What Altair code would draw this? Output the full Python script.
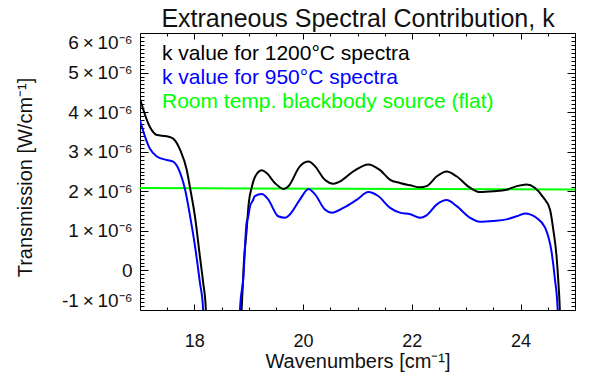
import altair as alt
import pandas as pd

# k value for 1200°C spectra (units of 1e-6 W/cm^-1)
wn_1200 = [17.00, 17.18, 17.31, 17.49, 17.61, 17.74, 17.86, 17.92, 18.01, 18.10, 18.16, 18.21, 18.25,
           18.83, 18.87, 18.91, 18.96, 19.00, 19.06, 19.11, 19.24, 19.33, 19.48, 19.64, 19.73, 19.94,
           20.10, 20.22, 20.40, 20.56, 20.68, 20.92, 21.20, 21.41, 21.60, 21.78, 21.97, 22.15, 22.27,
           22.46, 22.64, 22.82, 23.07, 23.25, 23.50, 23.74, 23.93, 24.11, 24.26, 24.42, 24.54, 24.60,
           24.66, 24.69, 24.72, 24.75]
k_1200 = [4.33, 3.63, 3.42, 3.39, 3.33, 3.04, 2.54, 2.09, 1.37, 0.37, -0.29, -0.96, -2.5,
          -2.5, -0.96, 0.2, 1.0, 1.7, 2.13, 2.35, 2.53, 2.46, 2.21, 2.06, 2.13, 2.63,
          2.75, 2.63, 2.29, 2.19, 2.25, 2.50, 2.68, 2.54, 2.29, 2.21, 2.15, 2.10, 2.13,
          2.38, 2.50, 2.38, 2.09, 1.98, 2.00, 2.04, 2.13, 2.17, 2.09, 1.84, 1.54, 1.04,
          0.37, -0.21, -0.96, -2.5]

# k value for 950°C spectra
wn_950 = [17.00, 17.18, 17.31, 17.49, 17.61, 17.74, 17.83, 17.92, 18.01, 18.10, 18.16, 18.20,
          18.80, 18.84, 18.90, 18.96, 18.99, 19.02, 19.08, 19.11, 19.24, 19.36, 19.54, 19.67,
          19.76, 19.94, 20.10, 20.22, 20.40, 20.53, 20.74, 20.99, 21.20, 21.38, 21.60, 21.78,
          21.97, 22.15, 22.27, 22.46, 22.64, 22.82, 23.07, 23.25, 23.50, 23.74, 23.93, 24.08,
          24.29, 24.45, 24.57, 24.63, 24.68, 24.71]
k_950 = [3.79, 3.08, 2.88, 2.79, 2.75, 2.46, 2.04, 1.38, 0.63, -0.29, -0.96, -2.5,
         -2.5, -0.96, -0.2, 1.2, 1.35, 1.6, 1.78, 1.88, 1.93, 1.79, 1.37, 1.33,
         1.42, 1.79, 2.06, 1.92, 1.54, 1.46, 1.58, 1.79, 1.98, 1.88, 1.58, 1.46,
         1.42, 1.33, 1.39, 1.67, 1.78, 1.63, 1.33, 1.23, 1.25, 1.29, 1.37, 1.44,
         1.33, 1.08, 0.46, -0.21, -0.96, -2.5]

# Room temperature blackbody source (flat)
wn_room = [17.0, 25.0]
k_room = [2.08, 2.045]

series_names = ["1200", "950"]
series_colors = ["#000000", "#0000ff"]
legend_texts = ["k value for 1200°C spectra", "k value for 950°C spectra",
                "Room temp. blackbody source (flat)"]
legend_colors = ["#000000", "#0000ff", "#00ff00"]
title_text = "Extraneous Spectral Contribution, k"

x_major = [18, 20, 22, 24]
x_minor = [17.5, 18.5, 19, 19.5, 20.5, 21, 21.5, 22.5, 23, 23.5, 24.5]
y_major = [-1, 0, 1, 2, 3, 4, 5, 6]
y_minor = [i / 10 for i in range(-10, 61) if i % 10 != 0]

curves = pd.concat([
    pd.DataFrame({"x": wn_1200, "y": k_1200, "series": series_names[0]}),
    pd.DataFrame({"x": wn_950, "y": k_950, "series": series_names[1]}),
])
room = pd.DataFrame({"x": wn_room, "y": k_room})

FONT = "Liberation Sans"


def xs():
    return alt.Scale(domain=[17, 25], nice=False, zero=False)


def ys():
    return alt.Scale(domain=[-1, 6], nice=False, zero=False)


def tick_axis(orient, values, size):
    return alt.Axis(orient=orient, values=values, tickSize=size, offset=-size,
                    domain=False, grid=False, labels=False, ticks=True,
                    tickColor="black", tickWidth=1)


main = alt.Chart(curves).mark_line(clip=True, strokeWidth=2, interpolate="monotone").encode(
    x=alt.X("x:Q", scale=xs(), title="Wavenumbers [cm⁻¹]",
            axis=alt.Axis(orient="bottom", values=x_major, tickSize=6, offset=-6,
                          domain=False, grid=False, tickColor="black",
                          labelFontSize=18, labelFont=FONT, labelColor="#111",
                          labelPadding=22, labelOverlap=False,
                          titleFontSize=20, titleFont=FONT, titleFontWeight="normal",
                          titleColor="#111", titleX=217.5, titleY=63,
                          titleBaseline="alphabetic", titleAlign="center")),
    y=alt.Y("y:Q", scale=ys(), title="Transmission [W/cm⁻¹]",
            axis=alt.Axis(orient="left", values=y_major, tickSize=8, offset=-8,
                          domain=False, grid=False, tickColor="black",
                          labelFontSize=19, labelFont=FONT, labelColor="#111",
                          labelPadding=8, labelFlush=True, labelOverlap=False,
                          labelExpr="datum.value == 0 ? '0' : datum.value + '\u2009×\u200910⁻⁶'",
                          titleFontSize=20, titleFont=FONT, titleFontWeight="normal",
                          titleColor="#111", titleX=-123, titleY=144, titleAngle=270,
                          titleBaseline="middle", titleAlign="center")),
    color=alt.Color("series:N", scale=alt.Scale(domain=series_names, range=series_colors),
                    legend=None),
)

green = alt.Chart(room).mark_line(clip=True, strokeWidth=2, color="#00ff00").encode(
    x=alt.X("x:Q", scale=xs(), title=None, axis=tick_axis("top", x_major, 6)),
    y=alt.Y("y:Q", scale=ys(), title=None, axis=tick_axis("right", y_major, 8)),
)

minor1 = alt.Chart(room).mark_line(opacity=0).encode(
    x=alt.X("x:Q", scale=xs(), title=None, axis=tick_axis("bottom", x_minor, 3)),
    y=alt.Y("y:Q", scale=ys(), title=None, axis=tick_axis("left", y_minor, 4)),
)
minor2 = alt.Chart(room).mark_line(opacity=0).encode(
    x=alt.X("x:Q", scale=xs(), title=None, axis=tick_axis("top", x_minor, 3)),
    y=alt.Y("y:Q", scale=ys(), title=None, axis=tick_axis("right", y_minor, 4)),
)

legend_layers = []
for i, (t, c) in enumerate(zip(legend_texts, legend_colors)):
    legend_layers.append(
        alt.Chart(pd.DataFrame({"t": [t]})).mark_text(
            align="left", baseline="alphabetic", fontSize=21, font=FONT, color=c
        ).encode(text="t:N", x=alt.value(22), y=alt.value(27 + 24 * i))
    )

title_layer = alt.Chart(pd.DataFrame({"t": [title_text]})).mark_text(
    align="center", baseline="alphabetic", fontSize=25, font=FONT, color="#111"
).encode(text="t:N", x=alt.value(218), y=alt.value(-6))

chart = alt.layer(minor1, minor2, green, main, *legend_layers, title_layer).resolve_scale(
    x="independent", y="independent"
).resolve_axis(
    x="independent", y="independent"
).properties(
    width=435, height=277,
    autosize=alt.AutoSizeParams(type="none"),
    padding={"left": 132, "top": 25, "right": 9, "bottom": 65},
).configure_view(stroke="black", strokeWidth=1)

chart.save("out.html", embed_options={"renderer": "svg", "actions": False})
